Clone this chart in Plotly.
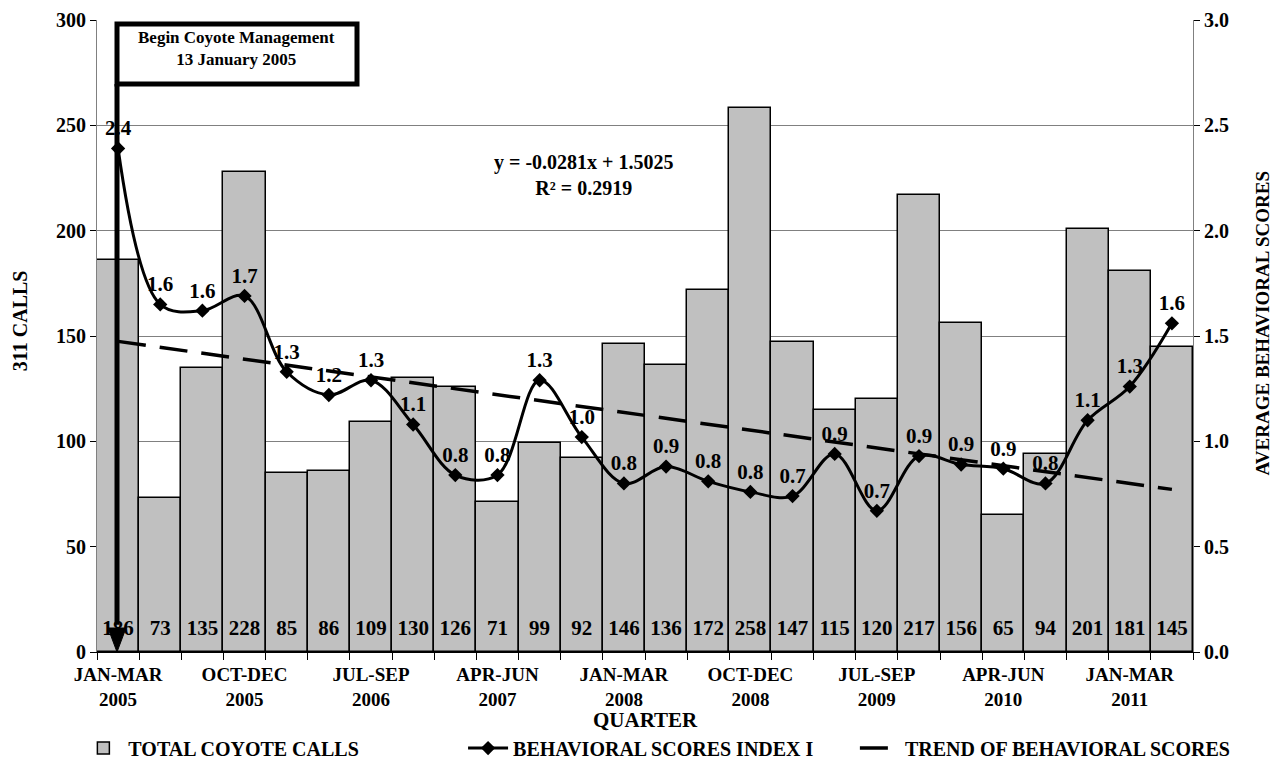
import plotly.graph_objects as go

quarters = ["JAN-MAR 2005", "APR-JUN 2005", "JUL-SEP 2005", "OCT-DEC 2005",
            "JAN-MAR 2006", "APR-JUN 2006", "JUL-SEP 2006", "OCT-DEC 2006",
            "JAN-MAR 2007", "APR-JUN 2007", "JUL-SEP 2007", "OCT-DEC 2007",
            "JAN-MAR 2008", "APR-JUN 2008", "JUL-SEP 2008", "OCT-DEC 2008",
            "JAN-MAR 2009", "APR-JUN 2009", "JUL-SEP 2009", "OCT-DEC 2009",
            "JAN-MAR 2010", "APR-JUN 2010", "JUL-SEP 2010", "OCT-DEC 2010",
            "JAN-MAR 2011", "APR-JUN 2011"]
calls = [186, 73, 135, 228, 85, 86, 109, 130, 126, 71, 99, 92, 146, 136,
         172, 258, 147, 115, 120, 217, 156, 65, 94, 201, 181, 145]
scores = [2.39, 1.65, 1.62, 1.69, 1.33, 1.22, 1.29, 1.08, 0.84, 0.84, 1.29,
          1.02, 0.80, 0.88, 0.81, 0.76, 0.74, 0.94, 0.67, 0.93, 0.89, 0.87,
          0.80, 1.10, 1.26, 1.56]
trend_slope = -0.0281
trend_intercept = 1.5025
label_every = 3

FONT = "Liberation Serif, Times New Roman, serif"
idx = list(range(len(quarters)))
trend = [trend_slope * (i + 1) + trend_intercept for i in idx]
tickvals = idx[::label_every]
ticktext = [quarters[i].replace(" ", "<br>") for i in tickvals]

fig = go.Figure()
fig.add_trace(go.Bar(
    x=idx, y=calls, name="TOTAL COYOTE CALLS", width=1, legend="legend",
    marker=dict(color="#c0c0c0", line=dict(color="black", width=1.5)),
))
fig.add_trace(go.Scatter(
    x=idx, y=trend, yaxis="y2", name="TREND OF BEHAVIORAL SCORES", legend="legend3",
    mode="lines", line=dict(color="black", width=3.5, dash="28px,14px"),
))
fig.add_trace(go.Scatter(
    x=idx, y=scores, yaxis="y2", name="BEHAVIORAL SCORES INDEX I", legend="legend2",
    mode="lines+markers+text", line=dict(color="black", width=3, shape="spline", smoothing=1),
    marker=dict(symbol="diamond", size=11, color="black"),
    text=[f"{v:.1f}" for v in scores], textposition="top center",
    textfont=dict(family=FONT, size=21, color="black", weight="bold"),
    cliponaxis=False,
))
# value labels at the base of each bar
fig.add_trace(go.Scatter(
    x=idx, y=[10.5] * len(idx), mode="text", text=calls, showlegend=False,
    textposition="middle center", hoverinfo="skip",
    textfont=dict(family=FONT, size=21, color="black", weight="bold"),
))

leg_font = dict(family=FONT, size=20, color="black", weight="bold")
leg_common = dict(orientation="h", y=-0.152, yanchor="middle", xanchor="left",
                  font=leg_font, itemwidth=40, bgcolor="rgba(0,0,0,0)")

fig.update_layout(
    width=1282, height=770,
    margin=dict(l=89, r=97, t=12, b=126, autoexpand=False),
    plot_bgcolor="white", paper_bgcolor="white",
    font=dict(family=FONT, color="black", size=18, weight="bold"),
    bargap=0,
    showlegend=True,
    legend=dict(x=-0.017, **leg_common),
    legend2=dict(x=0.334, **leg_common),
    legend3=dict(x=0.6915, **leg_common),
    xaxis=dict(range=[-0.5, len(idx) - 0.5], tickvals=tickvals, ticktext=ticktext,
               ticks="", showgrid=False, showline=True, linecolor="black", linewidth=1,
               ticklabelstandoff=5,
               tickfont=dict(family=FONT, size=19, color="black", weight="bold"),
               minor=dict(tickmode="array", tickvals=[i - 0.5 for i in idx] + [len(idx) - 0.5],
                          ticks="outside", ticklen=7, tickcolor="black", showgrid=False),
               zeroline=False),
    yaxis=dict(range=[0, 300], dtick=50, showgrid=True, gridcolor="#808080", gridwidth=1,
               showline=True, linecolor="#808080", linewidth=1, ticks="outside", ticklen=6,
               tickcolor="black", zeroline=False,
               tickfont=dict(family=FONT, size=20, color="black", weight="bold")),
    yaxis2=dict(range=[0, 3], dtick=0.5, tickformat=".1f", overlaying="y", side="right",
                showgrid=False, showline=True, linecolor="#808080", linewidth=1,
                ticks="outside", ticklen=6, tickcolor="black", zeroline=False,
                tickfont=dict(family=FONT, size=20, color="black", weight="bold")),
)

# axis titles
fig.add_annotation(text="311 CALLS", xref="paper", yref="paper", x=-0.0703, y=0.525,
                   xanchor="center", yanchor="middle",
                   textangle=-90, showarrow=False, font=dict(size=20))
fig.add_annotation(text="AVERAGE BEHAVIORAL SCORES", xref="paper", yref="paper", x=1.063,
                   y=0.52, xanchor="center", yanchor="middle",
                   textangle=-90, showarrow=False, font=dict(size=19))
fig.add_annotation(text="QUARTER", xref="paper", yref="paper", x=0.5, y=-0.107,
                   xanchor="center", yanchor="middle",
                   showarrow=False, font=dict(size=21))
# trendline equation
fig.add_annotation(text=f"y = {trend_slope}x + {trend_intercept}<br>R² = 0.2919",
                   xref="paper", yref="paper", x=0.444, y=0.755,
                   xanchor="center", yanchor="middle", showarrow=False,
                   font=dict(size=20))

# management box and arrow
bx0, bx1 = (117 - 97) / 1096, (357 - 97) / 1096
by0, by1 = (652 - 84) / 632, (652 - 24) / 632
fig.add_shape(type="rect", xref="paper", yref="paper", x0=bx0, x1=bx1, y0=by0, y1=by1,
              line=dict(color="black", width=5), fillcolor="white", layer="above")
fig.add_annotation(text="Begin Coyote Management<br>13 January 2005", xref="paper",
                   yref="paper", x=(bx0 + bx1) / 2, y=(by0 + by1) / 2 + 0.008,
                   xanchor="center", yanchor="middle", showarrow=False,
                   font=dict(size=17))
ax = bx0
head_top = (652 - 628) / 632
head_tip = (652 - 652) / 632
hw = 9 / 1096
fig.add_shape(type="line", xref="paper", yref="paper", x0=ax, x1=ax, y0=by0, y1=head_top + 0.005,
              line=dict(color="black", width=5), layer="above")
fig.add_shape(type="path", xref="paper", yref="paper",
              path=f"M {ax - hw},{head_top} L {ax + hw},{head_top} L {ax},{head_tip} Z",
              fillcolor="black", line=dict(color="black", width=1), layer="above")

fig.write_html("out.html")
